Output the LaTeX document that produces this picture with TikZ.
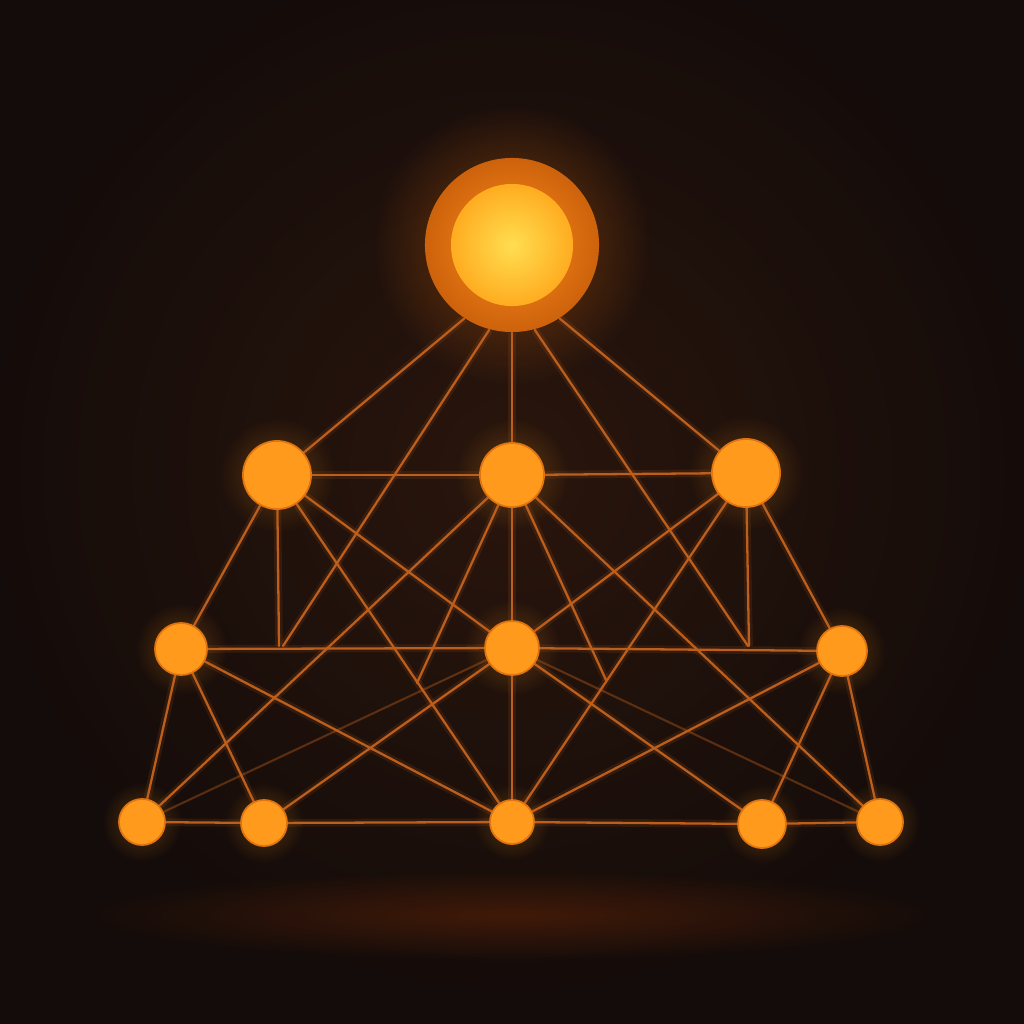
\documentclass[tikz,border=0pt]{standalone}
\usepackage{tikz}
\usetikzlibrary{positioning}
\usetikzlibrary{fadings}

\definecolor{bgdark}{HTML}{140C0A}
\definecolor{bgwarm}{HTML}{2A160D}
\definecolor{floorglow}{HTML}{4E1E08}
\definecolor{wirecol}{HTML}{BC5E1C}
\definecolor{nodeorange}{HTML}{FF9A1C}
\definecolor{nodeedge}{HTML}{E07410}
\definecolor{ringin}{HTML}{FF8A18}
\definecolor{ringout}{HTML}{CC620C}
\definecolor{coreyellow}{HTML}{FFDE50}
\definecolor{coreedge}{HTML}{FFAC20}

\tikzfading[name=glowfade, inner color=transparent!0, outer color=transparent!100]

\pgfdeclarelayer{bg}
\pgfdeclarelayer{back}
\pgfsetlayers{bg,back,main}

\begin{document}
\begin{tikzpicture}[x=0.01cm, y=-0.01cm,
	neuron/.style={circle, fill=nodeorange, draw=nodeedge, line width=0.5pt, inner sep=0pt},
	wire/.style={draw=wirecol, line width=0.65pt, line cap=round, preaction={draw=wirecol, line width=2.2pt, opacity=0.14}},
	faint wire/.style={draw=wirecol, line width=0.6pt, opacity=0.4}]
	\useasboundingbox (0,0) rectangle (1024,1024);

	% top unit with its ring
	\node[circle, inner sep=0pt, minimum size=1.74cm, shade, inner color=ringin, outer color=ringout] (top) at (512,245) {};
	\node[circle, inner sep=0pt, minimum size=1.22cm, shade, inner color=coreyellow, outer color=coreedge] (core) at (top) {};

	% the three lower rows
	\foreach \name/\x/\y/\r in {a/277/475/34, b/512/475/32, c/746/473/34,
		d/181/649/26, e/512/648/27, f/842/651/25,
		g/142/822/23, h/264/823/23, i/512/822/22, j/762/824/24, k/880/822/23} {
		\node[neuron, minimum size=\r*0.02cm] (\name) at (\x,\y) {};
	}

	% loose ends of some wires
	\coordinate (t1) at (283,646);
	\coordinate (t2) at (748,646);
	\coordinate (a1) at (279,646);
	\coordinate (c1) at (749,646);
	\coordinate (b1) at (417,683);
	\coordinate (b2) at (606,680);

	\begin{pgfonlayer}{bg}
		\fill[bgdark] (0,0) rectangle (1024,1024);
		\fill[bgwarm, path fading=glowfade] (512,470) circle (540);
		\fill[floorglow, path fading=glowfade, opacity=0.75] (512,915) ellipse (430 and 45);
	\end{pgfonlayer}

	\begin{pgfonlayer}{back}
		% glow round the units
		\fill[ringout, path fading=glowfade, opacity=0.5] (top) circle (140);
		\foreach \n/\g in {a/58, b/56, c/58, d/46, e/48, f/44, g/40, h/40, i/38, j/40, k/40} {
			\fill[nodeorange, path fading=glowfade, opacity=0.28] (\n) circle (\g);
		}

		% wires from the top
		\draw[wire] (top.237) -- (a);
		\draw[wire] (top) -- (b);
		\draw[wire] (top.303) -- (c);
		\draw[wire] (top.255) -- (t1);
		\draw[wire] (top.285) -- (t2);

		% wires from the first row
		\draw[wire] (a) -- (b);
		\draw[wire] (b) -- (c);
		\draw[wire] (a) -- (d);
		\draw[wire] (a) -- (a1);
		\draw[wire] (a) -- (e);
		\draw[wire] (a) -- (i);
		\draw[wire] (b) -- (e);
		\draw[wire] (b) -- (g);
		\draw[wire] (b) -- (k);
		\draw[wire] (b) -- (b1);
		\draw[wire] (b) -- (b2);
		\draw[wire] (c) -- (f);
		\draw[wire] (c) -- (c1);
		\draw[wire] (c) -- (e);
		\draw[wire] (c) -- (i);

		% wires from the second row
		\draw[wire] (d) -- (e);
		\draw[wire] (e) -- (f);
		\draw[wire] (d) -- (g);
		\draw[wire] (d) -- (h);
		\draw[wire] (d) -- (i);
		\draw[wire] (e) -- (h);
		\draw[wire] (e) -- (i);
		\draw[wire] (e) -- (j);
		\draw[wire] (f) -- (i);
		\draw[wire] (f) -- (j);
		\draw[wire] (f) -- (k);
		\draw[faint wire] (e) -- (g);
		\draw[faint wire] (e) -- (k);

		% bottom row
		\draw[wire] (g) -- (h);
		\draw[wire] (h) -- (i);
		\draw[wire] (i) -- (j);
		\draw[wire] (j) -- (k);
	\end{pgfonlayer}
\end{tikzpicture}
\end{document}
